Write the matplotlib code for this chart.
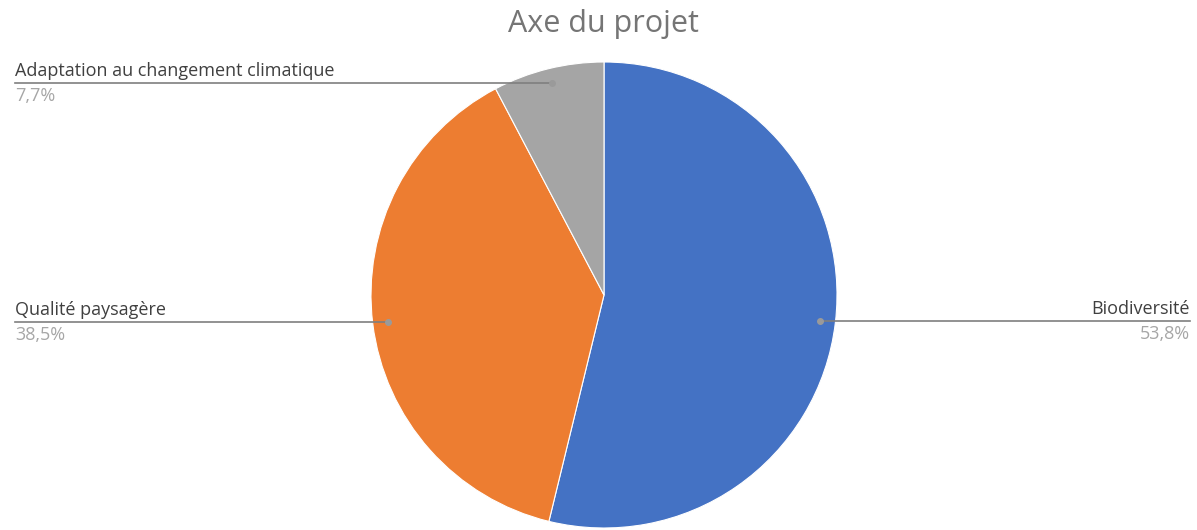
import numpy as np
import matplotlib.pyplot as plt

plt.rcParams['font.family'] = ['Open Sans', 'DejaVu Sans']

categories = ['Biodiversité', 'Qualité paysagère', 'Adaptation au changement climatique']
values = [53.8, 38.5, 7.7]
pct_labels = ['53,8%', '38,5%', '7,7%']
colors = ['#4472C4', '#ED7D31', '#A5A5A5']

W, H = 1197, 530
fig = plt.figure(figsize=(W / 100, H / 100), dpi=100)
ax = fig.add_axes([0, 0, 1, 1])

cx, cy, R = 604, H - 295, 233
wedges, _ = ax.pie(values, colors=colors, startangle=90, counterclock=False,
                   center=(cx, cy), radius=R, frame=True,
                   wedgeprops=dict(edgecolor='white', linewidth=0.8))
ax.set_xlim(0, W)
ax.set_ylim(0, H)
ax.set_aspect('equal')
ax.axis('off')

left_x, right_x = 15, 1190
for w, cat, pct in zip(wedges, categories, pct_labels):
    mid = np.deg2rad((w.theta1 + w.theta2) / 2)
    px = cx + 0.935 * R * np.cos(mid)
    py = cy + 0.935 * R * np.sin(mid)
    ax.plot(px, py, 'o', color='#9a9a9a', ms=4, zorder=5)
    if px > cx:
        x0, x1, xt, ha = px, right_x, right_x, 'right'
    else:
        x0, x1, xt, ha = left_x, px, left_x, 'left'
    ax.plot([x0, x1], [py, py], color='#7f7f7f', lw=1.2, zorder=4)
    ax.text(xt, py + 3, cat, ha=ha, va='bottom', fontsize=13, color='#404040')
    ax.text(xt, py - 4, pct, ha=ha, va='top', fontsize=13, color='#a6a6a6')

ax.text(W / 2 + 5, H - 24, 'Axe du projet', ha='center', va='center', fontsize=22, color='#757575')

fig.savefig('out.png', dpi=100)
